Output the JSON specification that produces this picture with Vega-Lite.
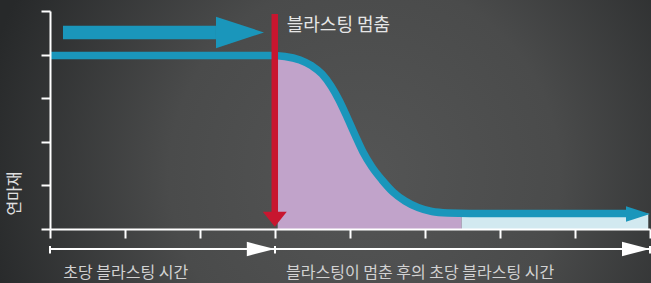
{
  "$schema": "https://vega.github.io/schema/vega-lite/v6.json",
  "width": 600,
  "height": 218,
  "autosize": {"type": "none"},
  "padding": {"left": 50, "top": 11, "right": 1, "bottom": 54},
  "background": "#3a3b3b",
  "config": {"view": {"stroke": null}, "font": "Noto Sans CJK KR"},
  "datasets": {
    "bg": [{"x": -0.6667, "x2": 8.0133, "y": -1.2385, "y2": 5.2523}],
    "curve": [
      {"x": 0, "y": 3.979}, {"x": 2.933, "y": 3.979}, {"x": 3.133, "y": 3.956}, {"x": 3.333, "y": 3.876},
      {"x": 3.493, "y": 3.739}, {"x": 3.627, "y": 3.555}, {"x": 3.747, "y": 3.28}, {"x": 3.853, "y": 2.959},
      {"x": 3.96, "y": 2.569}, {"x": 4.067, "y": 2.156}, {"x": 4.173, "y": 1.766}, {"x": 4.293, "y": 1.422},
      {"x": 4.427, "y": 1.124}, {"x": 4.573, "y": 0.849}, {"x": 4.733, "y": 0.642}, {"x": 4.907, "y": 0.493},
      {"x": 5.093, "y": 0.401}, {"x": 5.307, "y": 0.367}, {"x": 5.6, "y": 0.356}, {"x": 7.68, "y": 0.356}
    ],
    "purple": [
      {"x": 3.036, "y": 3.97}, {"x": 3.133, "y": 3.956}, {"x": 3.333, "y": 3.876},
      {"x": 3.493, "y": 3.739}, {"x": 3.627, "y": 3.555}, {"x": 3.747, "y": 3.28}, {"x": 3.853, "y": 2.959},
      {"x": 3.96, "y": 2.569}, {"x": 4.067, "y": 2.156}, {"x": 4.173, "y": 1.766}, {"x": 4.293, "y": 1.422},
      {"x": 4.427, "y": 1.124}, {"x": 4.573, "y": 0.849}, {"x": 4.733, "y": 0.642}, {"x": 4.907, "y": 0.493},
      {"x": 5.093, "y": 0.401}, {"x": 5.307, "y": 0.367}, {"x": 5.489, "y": 0.36}
    ],
    "lightblue": [{"x": 5.489, "x2": 7.977, "y": 0, "y2": 0.356}],
    "curvehead": [{"x": 7.84, "y": 0.345}],
    "toparrow": [{"x": 0.173, "x2": 2.213, "y": 4.507}],
    "tophead": [{"x": 2.533, "y": 4.507}],
    "redline": [{"x": 2.997, "y": 4.931, "y2": 0.39}],
    "redhead": [{"x": 2.997, "y": 0.225}],
    "baseline": [{"x": 0, "x2": 8, "y": -0.4587}],
    "endticks": [{"x": 0, "y": -0.39, "y2": -0.562}, {"x": 3, "y": -0.39, "y2": -0.562}, {"x": 8, "y": -0.39, "y2": -0.562}],
    "baseheads": [{"x": 2.811, "y": -0.4587}, {"x": 7.813, "y": -0.4587}],
    "bottomtext": [{"x": 0.177, "y": -1.02, "label": "초당 블라스팅 시간"}, {"x": 3.147, "y": -1.02, "label": "블라스팅이 멈춘 후의 초당 블라스팅 시간"}],
    "toptext": [{"x": 3.156, "y": 4.667, "label": "블라스팅 멈춤"}]
  },
  "encoding": {
    "x": {"field": "x", "type": "quantitative", "scale": {"domain": [0, 8], "nice": false, "zero": false},
      "axis": {"values": [0, 1, 2, 3, 4, 5, 6, 7, 8], "labels": false, "title": null, "grid": false, "domainColor": "white", "domainWidth": 2, "tickColor": "white", "tickWidth": 2, "tickSize": 9, "zindex": 1}},
    "y": {"field": "y", "type": "quantitative", "scale": {"domain": [0, 5], "nice": false, "zero": false},
      "axis": {"values": [0, 1, 2, 3, 4, 5], "labels": false, "title": "연마재", "grid": false, "titleColor": "#e0e0e0", "titleFontSize": 16, "titleFontWeight": "normal", "titleAngle": -90, "titleX": -36, "titleY": 182, "titleAlign": "center", "titleBaseline": "middle", "domainColor": "white", "domainWidth": 2, "tickColor": "white", "tickWidth": 2, "tickSize": 9, "zindex": 1}}
  },
  "layer": [
    {
      "data": {"name": "bg"},
      "mark": {"type": "rect", "fill": {"gradient": "radial", "x1": 0.56, "y1": 0.55, "r1": 0, "x2": 0.56, "y2": 0.55, "r2": 0.6,
        "stops": [{"offset": 0, "color": "#545555"}, {"offset": 0.5, "color": "#4a4b4b"}, {"offset": 1, "color": "#27292a"}]}},
      "encoding": {"x2": {"field": "x2"}, "y2": {"field": "y2"}}
    },
    {
      "data": {"name": "purple"},
      "mark": {"type": "area", "color": "#c1a3ca", "interpolate": "monotone", "opacity": 1},
      "encoding": {"y2": {"datum": 0}}
    },
    {
      "data": {"name": "lightblue"},
      "mark": {"type": "rect", "color": "#d2e9f0"},
      "encoding": {"x2": {"field": "x2"}, "y2": {"field": "y2"}}
    },
    {
      "data": {"name": "curve"},
      "mark": {"type": "line", "color": "#1a96bb", "strokeWidth": 7.5, "interpolate": "monotone", "strokeCap": "butt"}
    },
    {
      "data": {"name": "curvehead"},
      "mark": {"type": "point", "shape": "M-1,-0.65L1,0L-1,0.65Z", "size": 576, "filled": true, "color": "#1a96bb", "opacity": 1, "strokeWidth": 0}
    },
    {
      "data": {"name": "toparrow"},
      "mark": {"type": "rule", "color": "#1a96bb", "strokeWidth": 13.6, "strokeCap": "butt"},
      "encoding": {"x2": {"field": "x2"}}
    },
    {
      "data": {"name": "tophead"},
      "mark": {"type": "point", "shape": "M-1,-0.658L1,0L-1,0.658Z", "size": 2304, "filled": true, "color": "#1a96bb", "opacity": 1, "strokeWidth": 0}
    },
    {
      "data": {"name": "redline"},
      "mark": {"type": "rule", "color": "#c8162f", "strokeWidth": 6.5, "strokeCap": "butt"},
      "encoding": {"y2": {"field": "y2"}}
    },
    {
      "data": {"name": "redhead"},
      "mark": {"type": "point", "shape": "M-1,-0.625L1,-0.625L0,0.625Z", "size": 576, "filled": true, "color": "#c8162f", "opacity": 1, "strokeWidth": 0}
    },
    {
      "data": {"name": "baseline"},
      "mark": {"type": "rule", "color": "white", "strokeWidth": 2},
      "encoding": {"x2": {"field": "x2"}}
    },
    {
      "data": {"name": "endticks"},
      "mark": {"type": "rule", "color": "white", "strokeWidth": 2},
      "encoding": {"y2": {"field": "y2"}}
    },
    {
      "data": {"name": "baseheads"},
      "mark": {"type": "point", "shape": "M-1,-0.514L1,0L-1,0.514Z", "size": 784, "filled": true, "color": "white", "opacity": 1, "strokeWidth": 0}
    },
    {
      "data": {"name": "bottomtext"},
      "mark": {"type": "text", "align": "left", "baseline": "middle", "fontSize": 16, "color": "#d2d2d2", "font": "Noto Sans CJK KR"},
      "encoding": {"text": {"field": "label"}}
    },
    {
      "data": {"name": "toptext"},
      "mark": {"type": "text", "align": "left", "baseline": "middle", "fontSize": 18, "color": "#e6e6e6", "font": "Noto Sans CJK KR"},
      "encoding": {"text": {"field": "label"}}
    }
  ]
}
